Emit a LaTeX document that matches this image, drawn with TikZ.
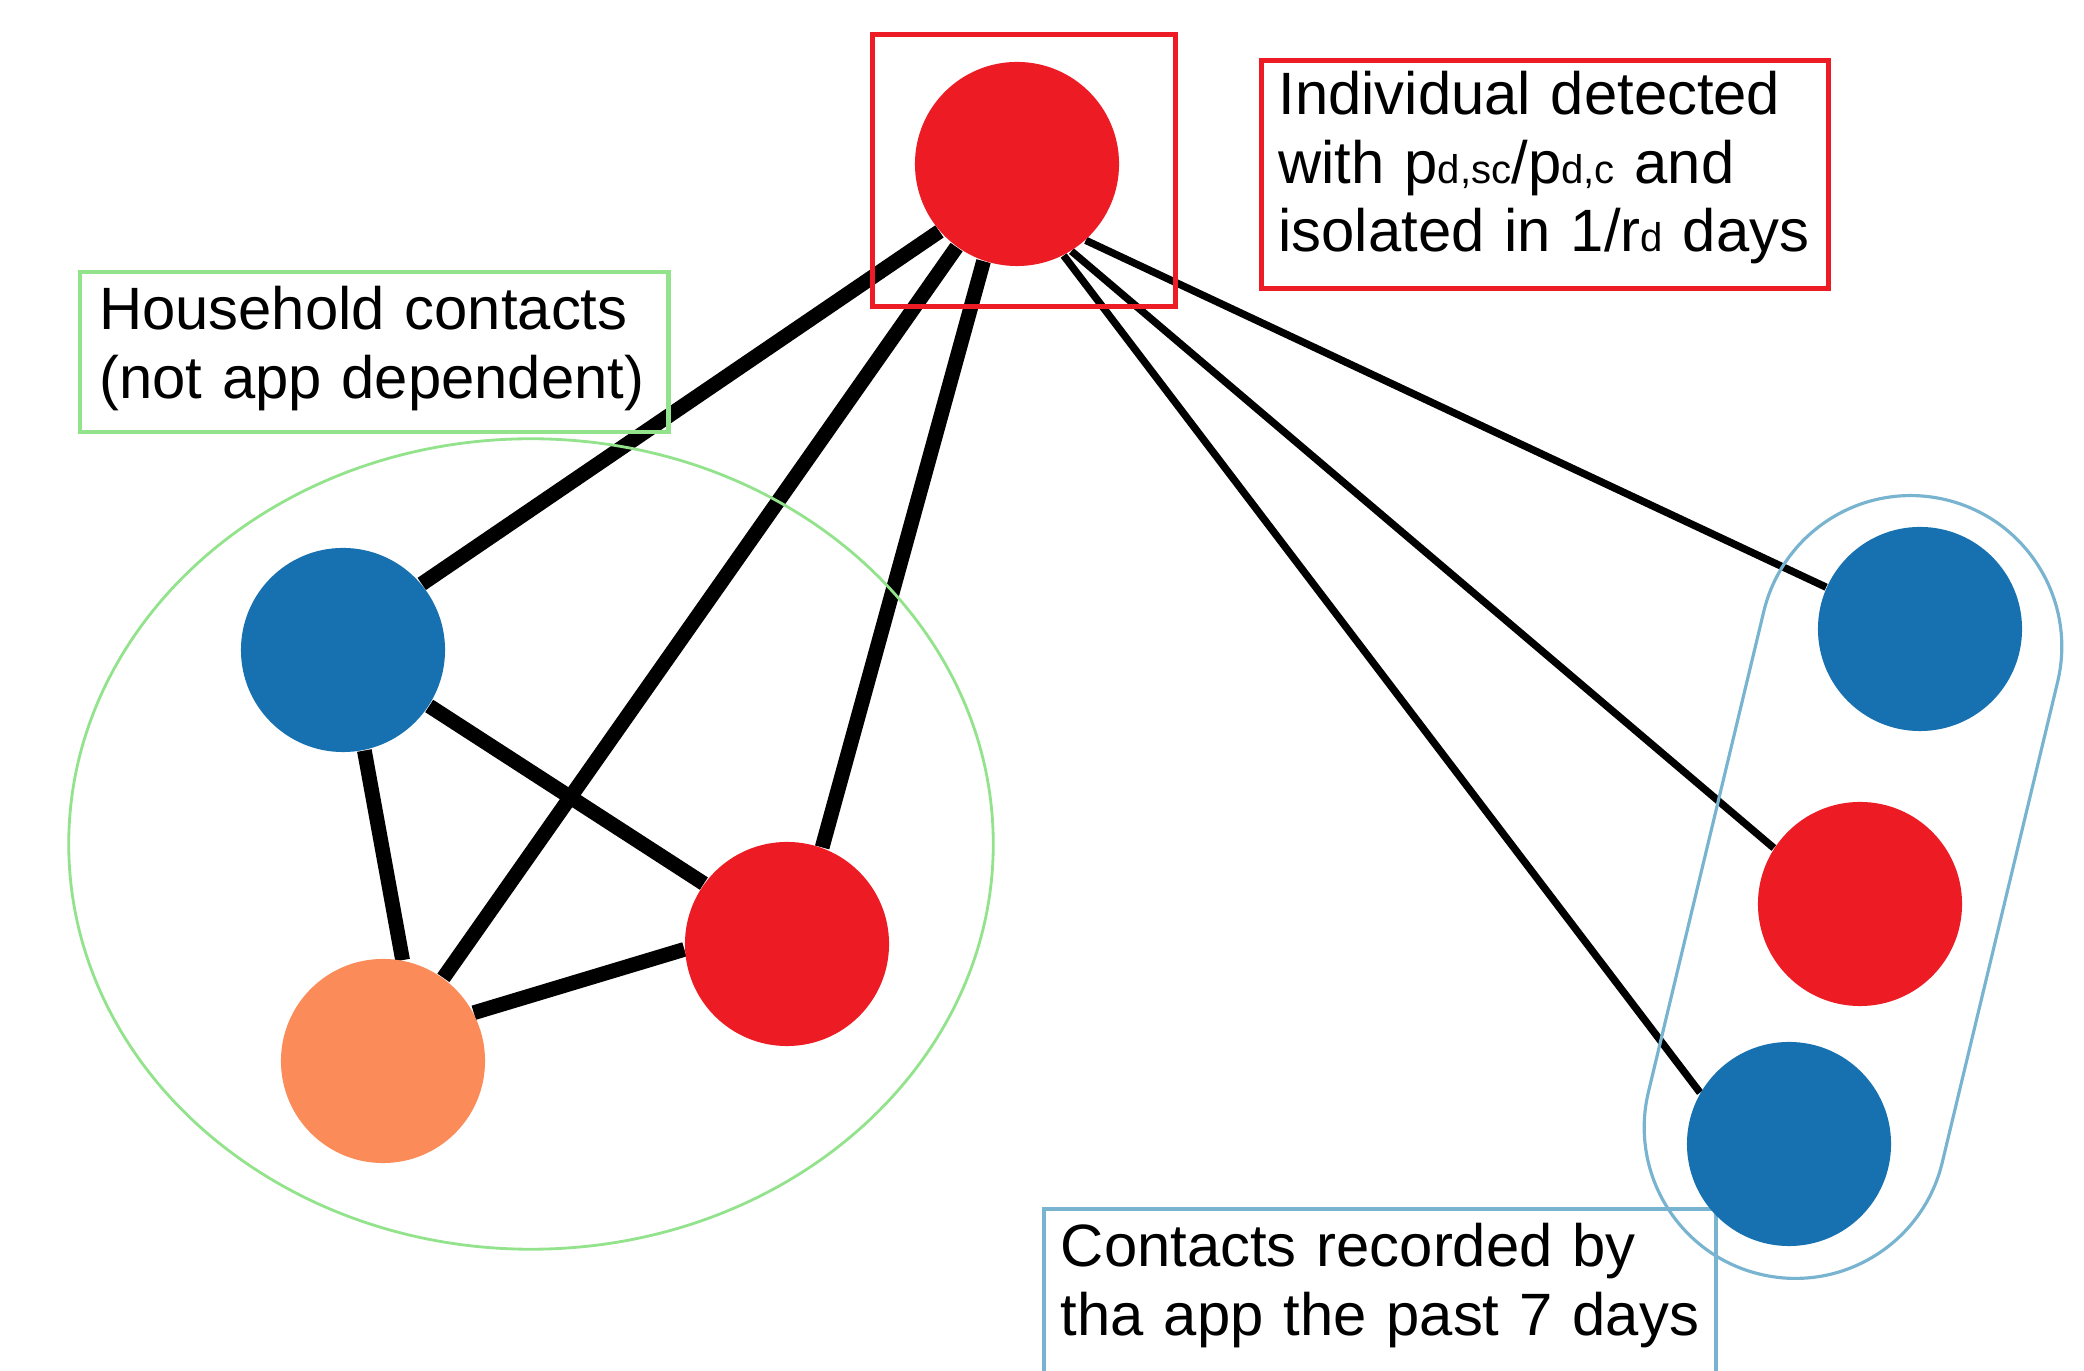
\documentclass[tikz,border=0pt]{standalone}
\usepackage{fontspec}
\setmainfont{Liberation Sans}
\usetikzlibrary{shapes.geometric,backgrounds}
\definecolor{infred}{HTML}{ED1C24}
\definecolor{appblue}{HTML}{1771B1}
\definecolor{hhorange}{HTML}{FB8B58}
\definecolor{hhgreen}{HTML}{93E28C}
\definecolor{grpblue}{HTML}{78B3CF}
\newcommand{\lowidx}[1]{{\fontsize{11.4}{11.4}\selectfont #1}}
\tikzset{
  person/.style={circle, inner sep=0pt, minimum size=2.04cm},
  lbl/.style={anchor=base west, align=left, font=\fontsize{17}{19.4}\selectfont,
              inner ysep=0pt, inner xsep=0.17cm},
  link/.style={line width=4.2pt},
  applink/.style={line width=2.1pt}
}

\begin{document}
\begin{tikzpicture}[x=0.01cm, y=-0.01cm]
  \useasboundingbox (0,0) rectangle (2084,1371);
  \clip (0,0) rectangle (2084,1371);
  % groups and labels
  \node[ellipse, draw=hhgreen, line width=0.8pt, minimum width=9.24cm,
        minimum height=8.1cm] (house) at (531,844) {};
  \node[draw=grpblue, line width=0.9pt, rounded corners=1.51cm, minimum width=3.02cm,
        minimum height=7.96cm, rotate=-13.5] (appgrp) at (1853,887) {};
  \node[lbl, draw=hhgreen, line width=1.2pt, inner xsep=0.19cm, text width=5.5cm,
        text height=0.58cm, text depth=1.02cm] (hhlbl) at (78,330)
        {\mbox{Household contacts}\\\mbox{(not app dependent)}};
  \node[lbl, draw=infred, line width=1.4pt, text width=5.33cm, text height=0.54cm,
        text depth=1.73cm] (detlbl) at (1259,115)
        {\mbox{Individual detected}\\\mbox{with p\lowidx{d,sc}/p\lowidx{d,c} and}\\\mbox{isolated in 1/r\lowidx{d} days}};
  \node[lbl, draw=grpblue, line width=1.1pt, text width=6.38cm, text height=0.58cm,
        text depth=1.23cm] (applbl) at (1042,1267)
        {\mbox{Contacts recorded by}\\\mbox{tha app the past 7 days}};
  \node[draw=infred, line width=1.4pt, inner sep=0pt, minimum width=3.02cm,
        minimum height=2.71cm] (detbox) at (1024,170.5) {};
  % individuals
  \node[person, fill=infred] (src) at (1017,164) {};
  \node[person, fill=appblue] (hblue) at (343,650) {};
  \node[person, fill=infred] (hred) at (787,944) {};
  \node[person, fill=hhorange] (horange) at (383,1061) {};
  \node[person, fill=appblue] (ablue) at (1920,629) {};
  \node[person, fill=infred] (ared) at (1860,904) {};
  \node[person, fill=appblue] (ablueb) at (1789,1144) {};
  % contacts
  \begin{scope}[on background layer]
    \draw[link] (src.221) -- (hblue.40);
    \draw[link] (src.234) -- (horange.54);
    \draw[link] (src.251) -- (hred.70);
    \draw[link] (hblue.-33) -- (hred.144);
    \draw[link] (hblue.-78) -- (horange.79);
    \draw[link] (horange.28) -- (hred.183);
    \draw[applink] (src.-48) -- (ablue.156);
    \draw[applink] (src.-58) -- (ared.147);
    \draw[applink] (src.-63) -- (ablueb.150);
  \end{scope}
\end{tikzpicture}
\end{document}
